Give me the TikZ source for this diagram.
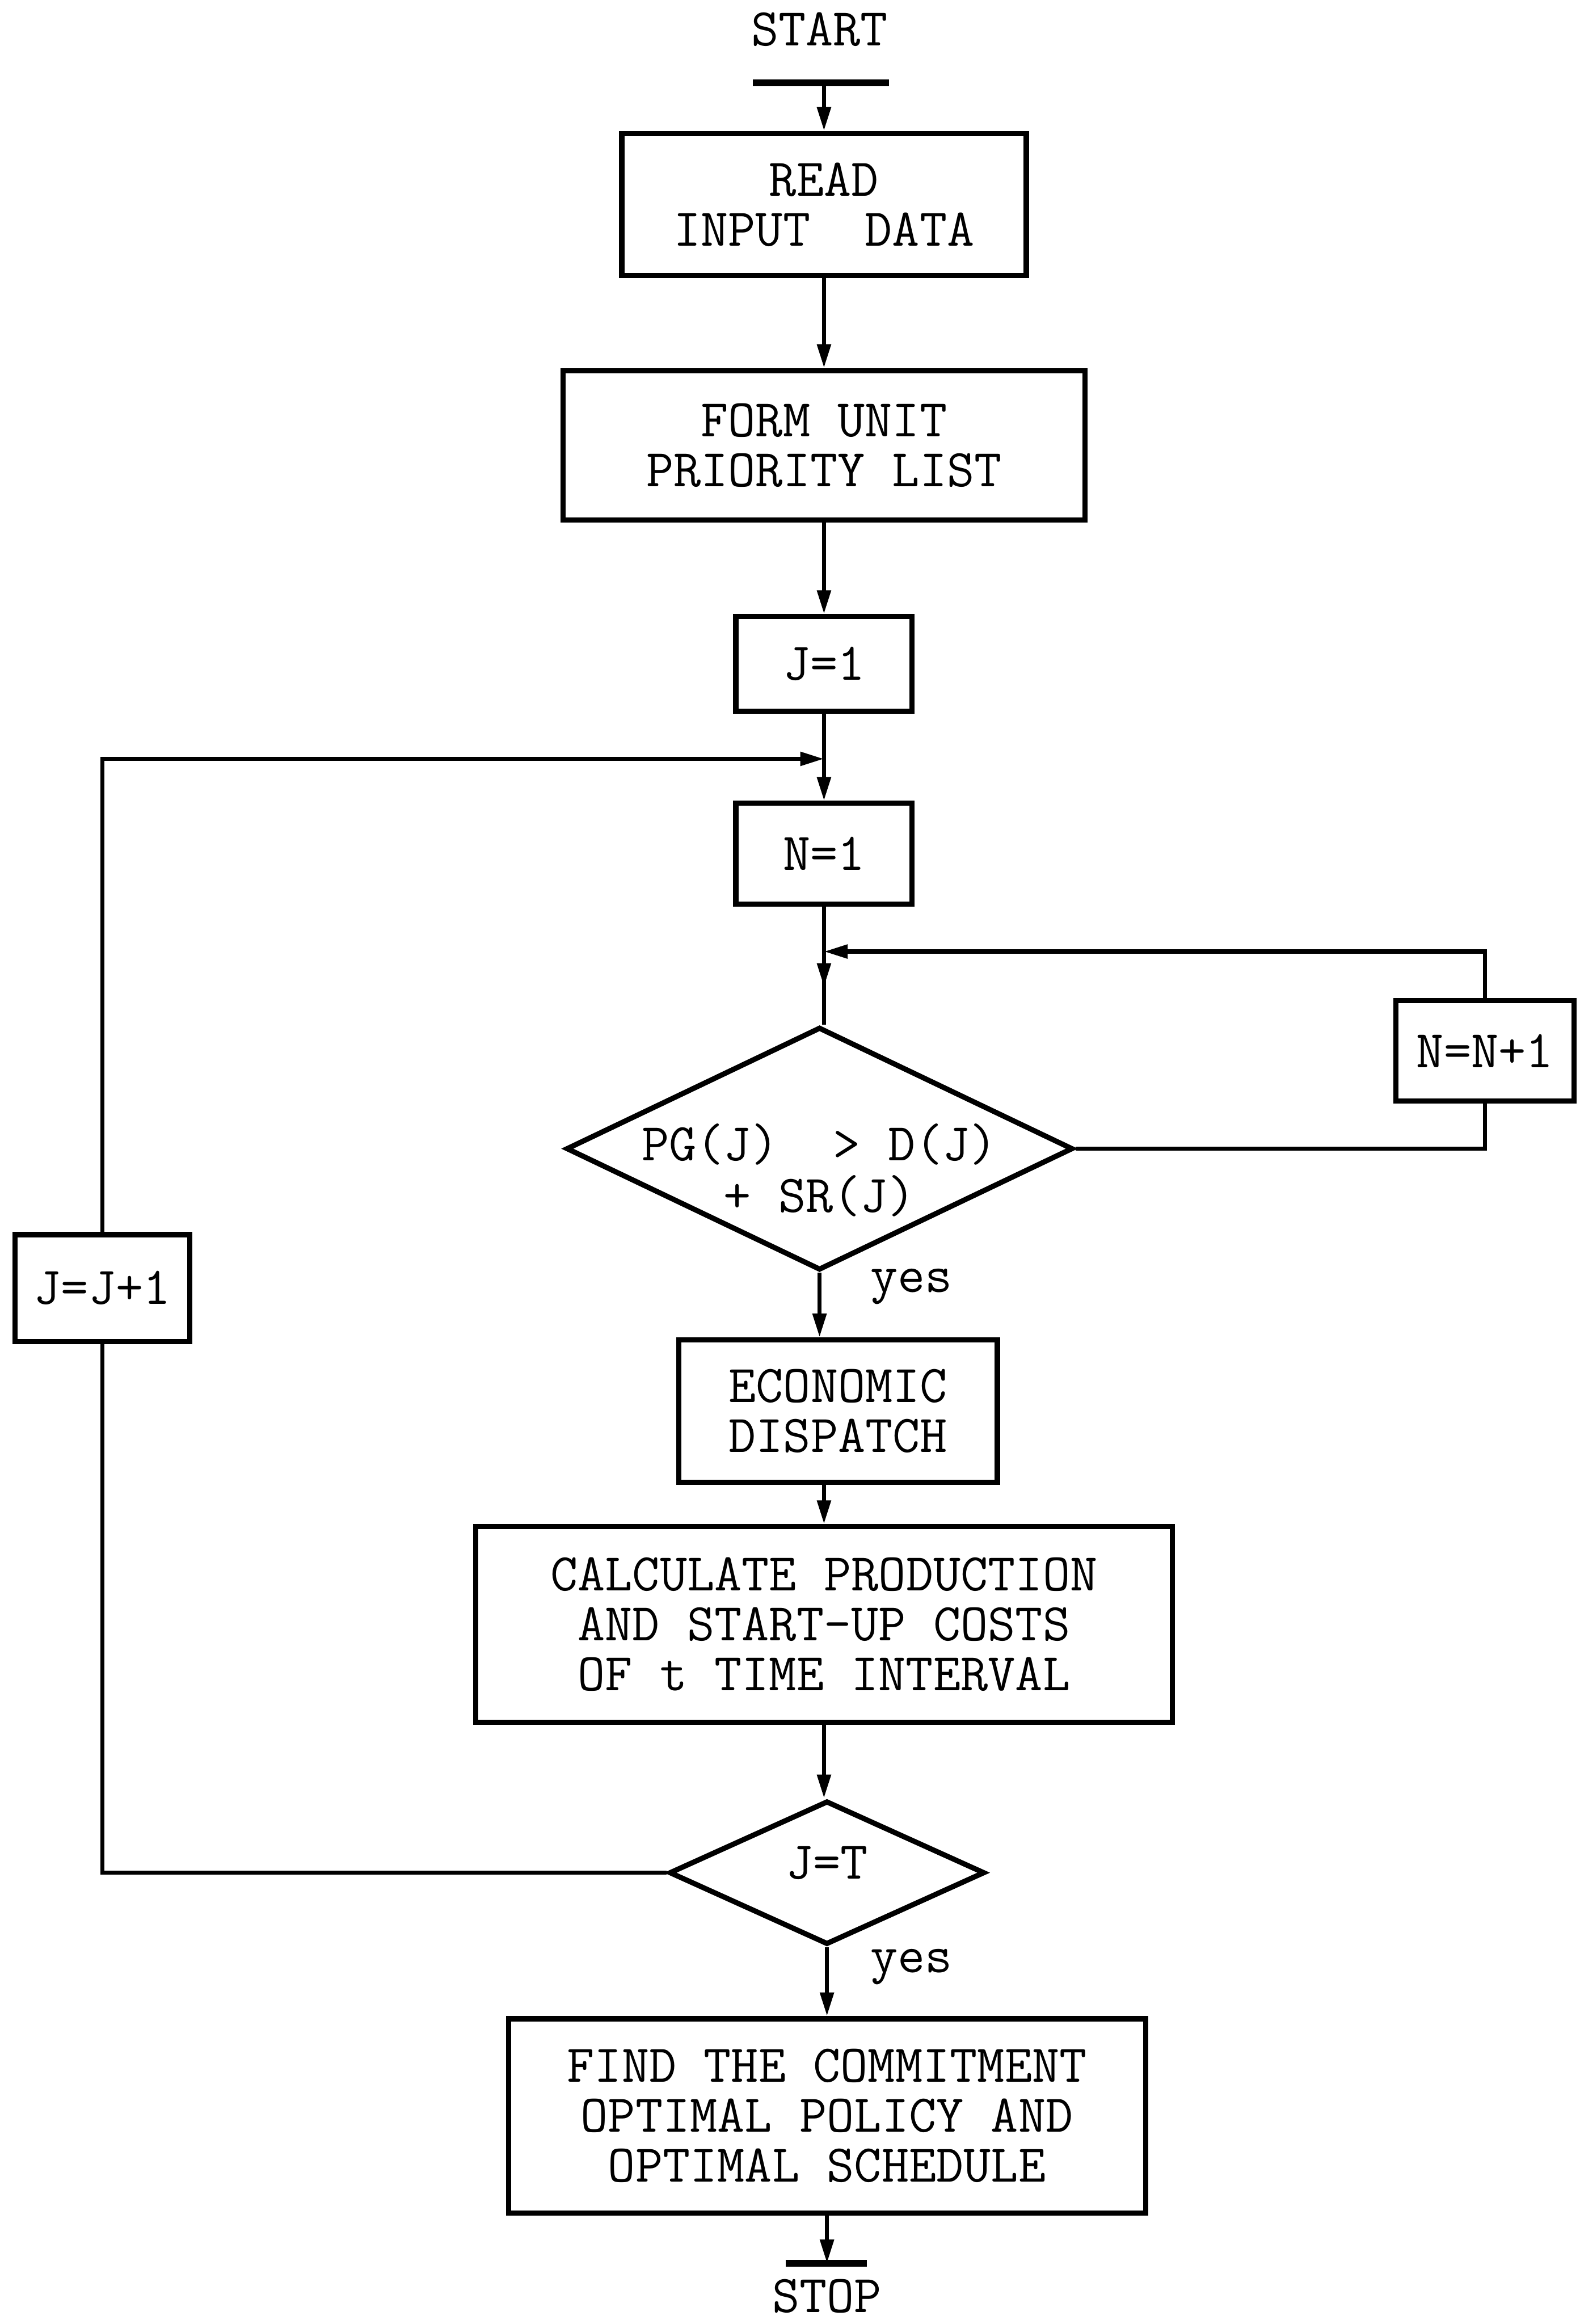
\documentclass[tikz,border=0pt]{standalone}
\usetikzlibrary{shapes.geometric,arrows.meta,decorations.markings}

% text inside a diamond, taking no room of its own
\newcommand{\dtext}[2][0pt]{\smash{\raisebox{#1}{\makebox[0pt]{\begin{tabular}[t]{@{}c@{}}#2\end{tabular}}}}}

\begin{document}
\begin{tikzpicture}[x=0.02cm, y=-0.02cm,
  font=\ttfamily\fontsize{20.4}{19.2}\selectfont,
  box/.style={draw, rectangle, line width=2pt, inner sep=0pt, align=center},
  decision/.style={draw, diamond, line width=2pt, inner sep=0pt},
  flow/.style={line width=1.6pt},
  arr/.style={flow, -{Triangle[length=0.32cm,width=0.18cm]}},
  midarr/.style={flow, postaction={decorate}, decoration={markings,
    mark=at position #1 with {\arrow{Triangle[length=0.32cm,width=0.18cm]}}}},
  termbar/.style={line width=2.6pt}]
\useasboundingbox (0,0) rectangle (1066,1568);

\node (start) at (553,20) {START};
\coordinate (sbarL) at (508,56);
\coordinate (sbarR) at (600,56);
\coordinate (sbar) at (556,56);
\draw[termbar] (sbarL) -- (sbarR);

\node[box, minimum width=5.46cm, minimum height=1.92cm] (read) at (556,138)
{READ\\INPUT\ \ DATA};
\node[box, minimum width=7.04cm, minimum height=2.02cm] (form) at (556,300.5)
{FORM UNIT\\PRIORITY LIST};
\node[box, minimum width=2.38cm, minimum height=1.28cm] (j1) at (556,448) {J=1};
\node[box, minimum width=2.38cm, minimum height=1.36cm] (n1) at (556,576) {N=1};

\node[decision, minimum width=6.84cm, minimum height=3.28cm] (d1) at (553,775)
{\dtext[-0.16cm]{PG(J)\ \ > D(J)\\+ SR(J)}};
\node[box, minimum width=2.40cm, minimum height=1.36cm] (nn1) at (1002,709) {N=N+1};
\node (yes1) at (615,868) {yes};

\node[box, minimum width=4.30cm, minimum height=1.92cm] (econ) at (565.5,952)
{ECONOMIC\\DISPATCH};
\node[box, minimum width=9.40cm, minimum height=2.64cm] (calc) at (556,1096)
{CALCULATE PRODUCTION\\AND START-UP COSTS\\OF t TIME INTERVAL};

\node[decision, minimum width=4.26cm, minimum height=1.94cm] (d2) at (558,1263.5)
{\dtext[-0.08cm]{J=T}};
\node[box, minimum width=2.36cm, minimum height=1.44cm] (jj1) at (69,869) {J=J+1};
\node (yes2) at (615,1327) {yes};

\node[box, minimum width=8.60cm, minimum height=2.62cm] (find) at (558,1427.5)
{FIND THE COMMITMENT\\OPTIMAL POLICY AND\\OPTIMAL SCHEDULE};

\coordinate (ebarL) at (530,1527);
\coordinate (ebarR) at (585,1527);
\coordinate (ebar) at (558,1527);
\draw[termbar] (ebarL) -- (ebarR);
\node (stop) at (558,1549) {STOP};

% main line
\draw[arr] (sbar) -- (read.north);
\draw[arr] (read.south) -- (form.north);
\draw[arr] (form.south) -- (j1.north);
\draw[arr] (j1.south) -- (n1.north);
\draw[midarr=0.68] (n1.south) -- (n1.south |- d1.north);
\draw[arr] (d1.south) -- (d1.south |- econ.north);
\draw[arr] (calc.north |- econ.south) -- (calc.north);
\draw[arr] (calc.south) -- (calc.south |- d2.north);
\draw[arr] (d2.south) -- (d2.south |- find.north);
\draw[arr] (find.south) -- (ebar);

% loops
\coordinate (nin) at (556,642);
\coordinate (jin) at (556,512);
\draw[flow] (d1.east) -| (nn1.south);
\draw[arr] (nn1.north) |- (nin);
\draw[flow] (d2.west) -| (jj1.south);
\draw[arr] (jj1.north) |- (jin);
\end{tikzpicture}
\end{document}
